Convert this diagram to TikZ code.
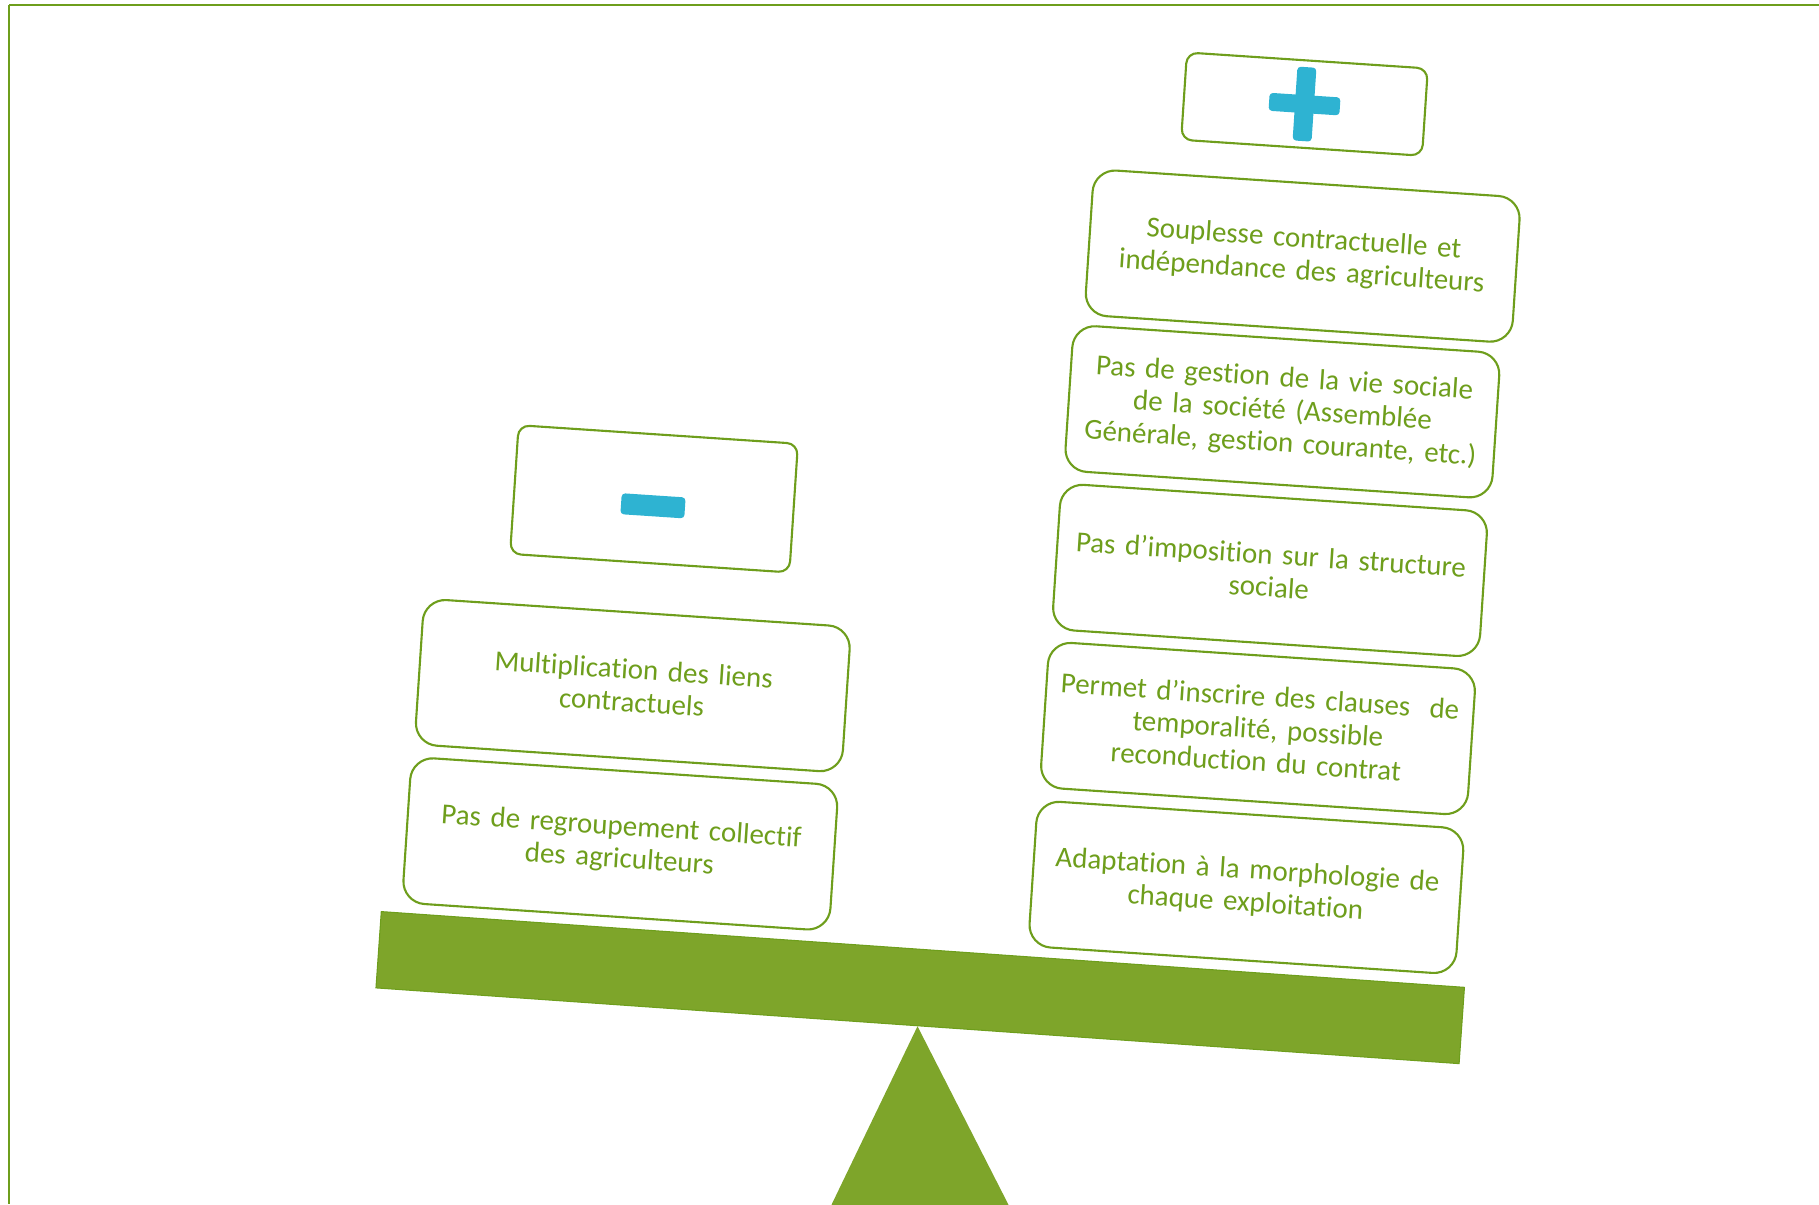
\documentclass[tikz,border=0pt]{standalone}
\usepackage{fontspec}
\setmainfont[Ligatures=NoCommon,WordSpace=0.7]{Carlito}
\usetikzlibrary{calc}
\definecolor{leafgreen}{RGB}{126,165,42}
\definecolor{inkgreen}{RGB}{110,158,28}
\definecolor{signblue}{RGB}{46,179,210}

\begin{document}
\begin{tikzpicture}[x=0.02cm, y=-0.02cm,
                    argument/.style={draw=inkgreen,line width=1.2pt,fill=white,rounded corners=0.45cm,rotate=-3.8,minimum width=8.56cm,minimum height=2.92cm,text width=8.3cm,align=center,text=inkgreen,font=\fontsize{16.5}{18.6}\selectfont},
                    sign box/.style={draw=inkgreen,line width=1.2pt,fill=white,rounded corners=0.22cm,rotate=-3.8},
                    sign bar/.style={fill=signblue,rounded corners=2pt,rotate=-3.8,inner sep=0pt},
                    plank/.style={fill=leafgreen,draw=inkgreen,line width=0.6pt,rotate=-4,minimum width=21.72cm,minimum height=1.53cm,inner sep=0pt},
                   ]
  \useasboundingbox (0,0) rectangle (1819,1204);
  \draw[inkgreen, line width=1.1pt] (1819,5) -- (9,5);
  \draw[inkgreen, line width=0.6pt] (9,5) -- (9,1204);

  \node[plank] (beam) at (920.2,987.6) {};
  \fill[leafgreen] (beam.south) -- ++(91,178.5) -- ++(-177,0) -- cycle;

  \node[sign box, minimum width=4.83cm, minimum height=1.75cm] (plus) at (1304.5,104.1) {};
  \node[sign bar, minimum width=0.38cm, minimum height=1.48cm] (plus-v) at (plus) {};
  \node[sign bar, minimum width=1.42cm, minimum height=0.36cm] (plus-h) at (plus) {};
  \node[argument] (souplesse) at (1302.7,256.1) {Souplesse contractuelle et\\indépendance des agriculteurs};
  \node[argument] (gestion) at (1282.4,411.8) {Pas de gestion de la vie sociale\\de la société (Assemblée\\Générale, gestion courante, etc.)};
  \node[argument] (imposition) at (1270,570.4) {Pas d’imposition sur la structure\\sociale};
  \node[argument] (temporalite) at (1258,728.5) {Permet d’inscrire des clauses~ de\\temporalité, possible\\reconduction du contrat};
  \node[argument] (adaptation) at (1246.4,887.4) {Adaptation à la morphologie de\\chaque exploitation};

  \node[sign box, minimum width=5.6cm, minimum height=2.58cm] (minus) at (654,498.8) {};
  \node[sign bar, minimum width=1.28cm, minimum height=0.42cm] (minus-h) at ($(minus)+(-1,7)$) {};
  \node[argument] (liens) at (632.8,685.6) {Multiplication des liens\\contractuels};
  \node[argument] (regroupement) at (620.3,843.9) {Pas de regroupement collectif\\des agriculteurs};
\end{tikzpicture}
\end{document}
